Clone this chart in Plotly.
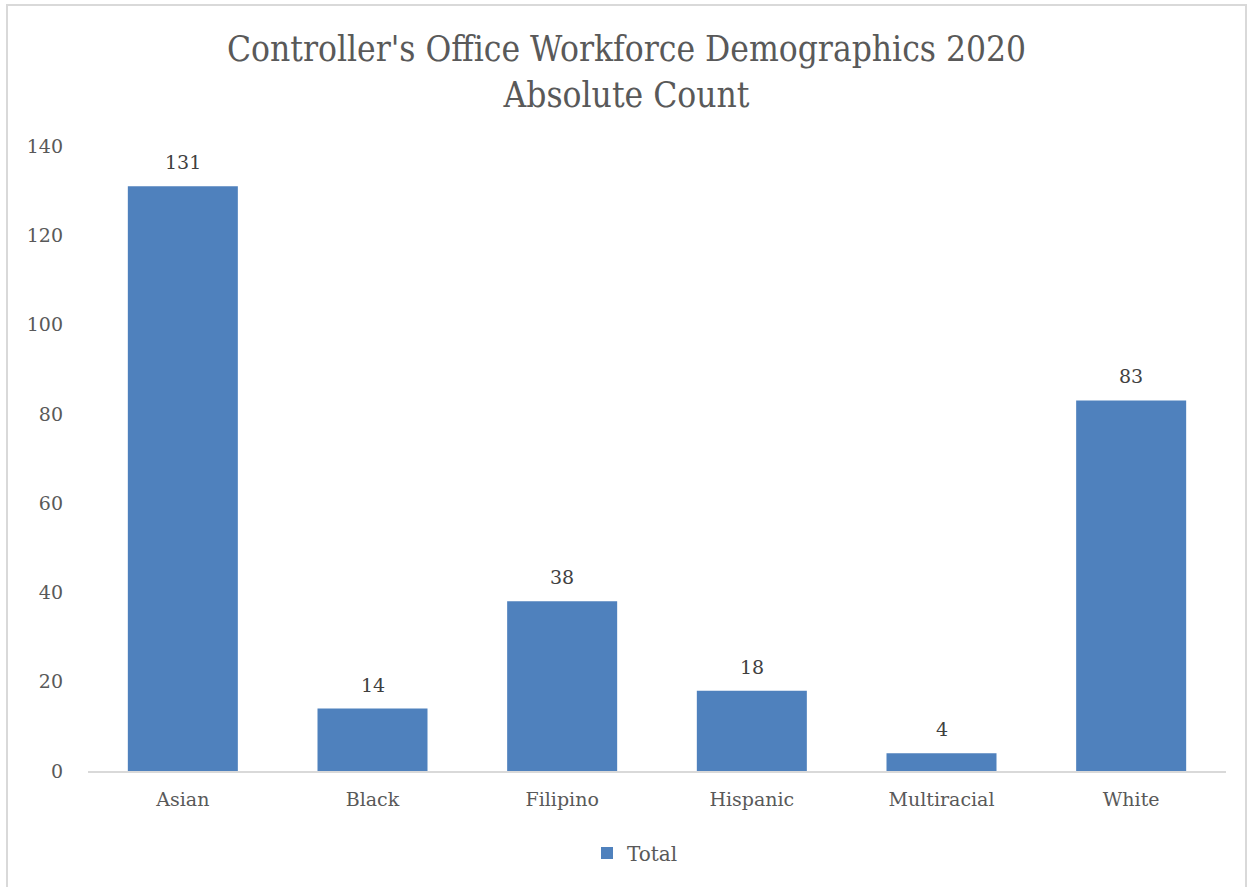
import plotly.graph_objects as go

categories = ["Asian", "Black", "Filipino", "Hispanic", "Multiracial", "White"]
totals = [131, 14, 38, 18, 4, 83]
y_ticks = [0, 20, 40, 60, 80, 100, 120, 140]

W, H = 1253, 887
L, R, T, B = 88, 27, 146, 116
plot_w = W - L - R
plot_h = H - T - B

text_color = "#595959"
bar_color = "#4f81bd"
serif = "DejaVu Serif, serif"
serif_cond = "DejaVu Serif Condensed, DejaVu Serif, serif"

fig = go.Figure(
    go.Bar(
        x=categories,
        y=totals,
        name="Total",
        marker=dict(color=bar_color, line=dict(width=0)),
    )
)

# value labels above each bar
for cat, val in zip(categories, totals):
    fig.add_annotation(
        x=cat,
        y=val,
        text=str(val),
        showarrow=False,
        yanchor="bottom",
        yshift=11,
        font=dict(size=19, color="#404040", family=serif),
    )


def px_x(p):
    return (p - L) / plot_w


def px_y(p):
    return (H - B - p) / plot_h


fig.update_layout(
    width=W,
    height=H,
    margin=dict(l=L, r=R, t=T, b=B),
    paper_bgcolor="white",
    plot_bgcolor="white",
    bargap=0.42,
    title=dict(
        text="Controller's Office Workforce Demographics 2020<br>Absolute Count",
        x=0.5,
        xanchor="center",
        y=1 - 61 / H,
        yanchor="middle",
        font=dict(size=35, color=text_color, family=serif_cond),
    ),
    showlegend=True,
    legend=dict(
        orientation="h",
        x=px_x(635),
        xanchor="center",
        y=px_y(853),
        yanchor="middle",
        font=dict(size=20, color=text_color, family=serif),
        itemwidth=30,
    ),
    xaxis=dict(
        showline=True,
        linecolor="#d9d9d9",
        linewidth=2,
        ticks="",
        ticklabelstandoff=10,
        tickfont=dict(size=19, color=text_color, family=serif),
        showgrid=False,
    ),
    yaxis=dict(
        range=[0, 140],
        tickvals=y_ticks,
        showgrid=False,
        zeroline=False,
        showline=False,
        ticks="",
        ticklabelstandoff=24,
        tickfont=dict(size=19, color=text_color, family=serif),
    ),
    shapes=[
        dict(
            type="rect",
            xref="paper",
            yref="paper",
            x0=px_x(7),
            x1=px_x(1246),
            y0=px_y(895),
            y1=px_y(5),
            line=dict(color="#d9d9d9", width=2),
            fillcolor="rgba(0,0,0,0)",
            layer="below",
        )
    ],
)

fig.write_html("out.html")
